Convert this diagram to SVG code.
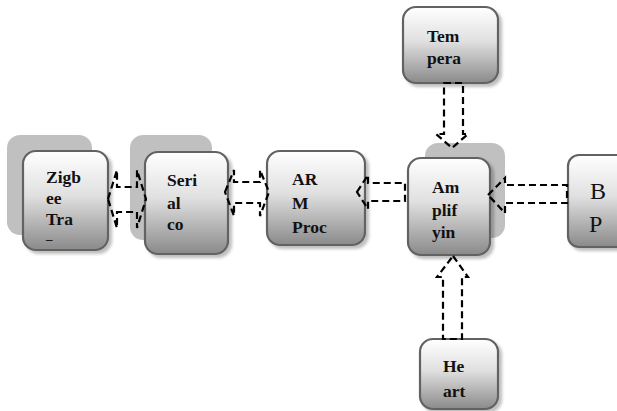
<svg xmlns="http://www.w3.org/2000/svg" width="617" height="411" viewBox="0 0 617 411">
  <defs>
    <linearGradient id="boxFill" x1="0" y1="0" x2="0" y2="1">
      <stop offset="0" stop-color="#ffffff"/>
      <stop offset="0.45" stop-color="#e0e0e0"/>
      <stop offset="1" stop-color="#8a8a8a"/>
    </linearGradient>
    <filter id="drop" x="-10%" y="-10%" width="125%" height="125%">
      <feDropShadow dx="3" dy="3" stdDeviation="1.5" flood-color="#000" flood-opacity="0.25"/>
    </filter>
    <style>
      .box { fill: url(#boxFill); stroke: #626262; stroke-width: 2.2; filter: url(#drop); }
      .back { fill: #c0c0c0; }
      .lbl { font-family: "Liberation Serif", "Times New Roman", serif; font-weight: bold; font-size: 17.5px; fill: #111; }
      .dash { font-family: "Liberation Serif", "Times New Roman", serif; font-weight: bold; font-size: 13px; fill: #111; }
      .big { font-family: "Liberation Serif", "Times New Roman", serif; font-size: 24px; fill: #111; }
      .arrow { fill: none; stroke: #000; stroke-width: 2.2; stroke-dasharray: 7 4; stroke-linejoin: miter; }
    </style>
  </defs>

  <rect width="617" height="411" fill="#ffffff"/>

  <g id="zigbee">
    <rect class="back" x="7" y="135" width="85" height="100" rx="13"/>
    <rect class="box" x="23" y="151" width="85" height="99" rx="13"/>
    <text class="lbl" x="46" y="183">Zigb</text>
    <text class="lbl" x="46" y="204">ee</text>
    <text class="lbl" x="46" y="225">Tra</text>
    <text class="dash" x="46" y="243">–</text>
  </g>

  <g id="serial">
    <rect class="back" x="130" y="135" width="82" height="105" rx="13"/>
    <rect class="box" x="145" y="152" width="83" height="102" rx="13"/>
    <text class="lbl" x="167" y="186">Seri</text>
    <text class="lbl" x="167" y="209">al</text>
    <text class="lbl" x="167" y="230">co</text>
  </g>

  <g id="arm">
    <rect class="box" x="267" y="151" width="98" height="94" rx="13"/>
    <text class="lbl" x="292" y="185">AR</text>
    <text class="lbl" x="292" y="209">M</text>
    <text class="lbl" x="292" y="233">Proc</text>
  </g>

  <g id="amplifying">
    <rect class="back" x="425" y="143" width="80" height="95" rx="13"/>
    <rect class="box" x="408" y="158" width="82" height="97" rx="13"/>
    <text class="lbl" x="432" y="193">Am</text>
    <text class="lbl" x="432" y="216">plif</text>
    <text class="lbl" x="432" y="238">yin</text>
  </g>

  <g id="temperature">
    <rect class="box" x="403" y="7" width="95" height="76" rx="13"/>
    <text class="lbl" x="427" y="42">Tem</text>
    <text class="lbl" x="427" y="64">pera</text>
  </g>

  <g id="heart">
    <rect class="box" x="420" y="339" width="78" height="70" rx="13"/>
    <text class="lbl" x="443" y="372">He</text>
    <text class="lbl" x="443" y="397">art</text>
  </g>

  <g id="bp">
    <rect class="box" x="568" y="155" width="60" height="92" rx="11"/>
    <text class="big" x="590" y="199">B</text>
    <text class="big" x="589" y="232">P</text>
  </g>

  <g id="connectors">
    <!-- Zigbee <-> Serial -->
    <polygon class="arrow" points="108,199 117,170 117,187 137,187 137,170 146,199 137,228 137,212 117,212 117,228"/>
    <!-- Serial <-> ARM -->
    <polygon class="arrow" points="225,192 234,170 234,182 260,182 260,170 269,192 260,216 260,203 234,203 234,216"/>
    <!-- Amplifying -> ARM -->
    <polygon class="arrow" points="357,192 368,175 368,183 405,183 405,201 368,201 368,209"/>
    <!-- Temperature -> Amplifying -->
    <polygon class="arrow" points="444,83 463,83 463,134 468,134 452,148 436,134 444,134"/>
    <!-- BP -> Amplifying -->
    <polygon class="arrow" points="488,195 505,178 505,185 567,185 567,203 505,203 505,213"/>
    <!-- Heart -> Amplifying -->
    <polygon class="arrow" points="453,256 468,277 462,277 462,339 443,339 443,277 437,277"/>
  </g>
</svg>
